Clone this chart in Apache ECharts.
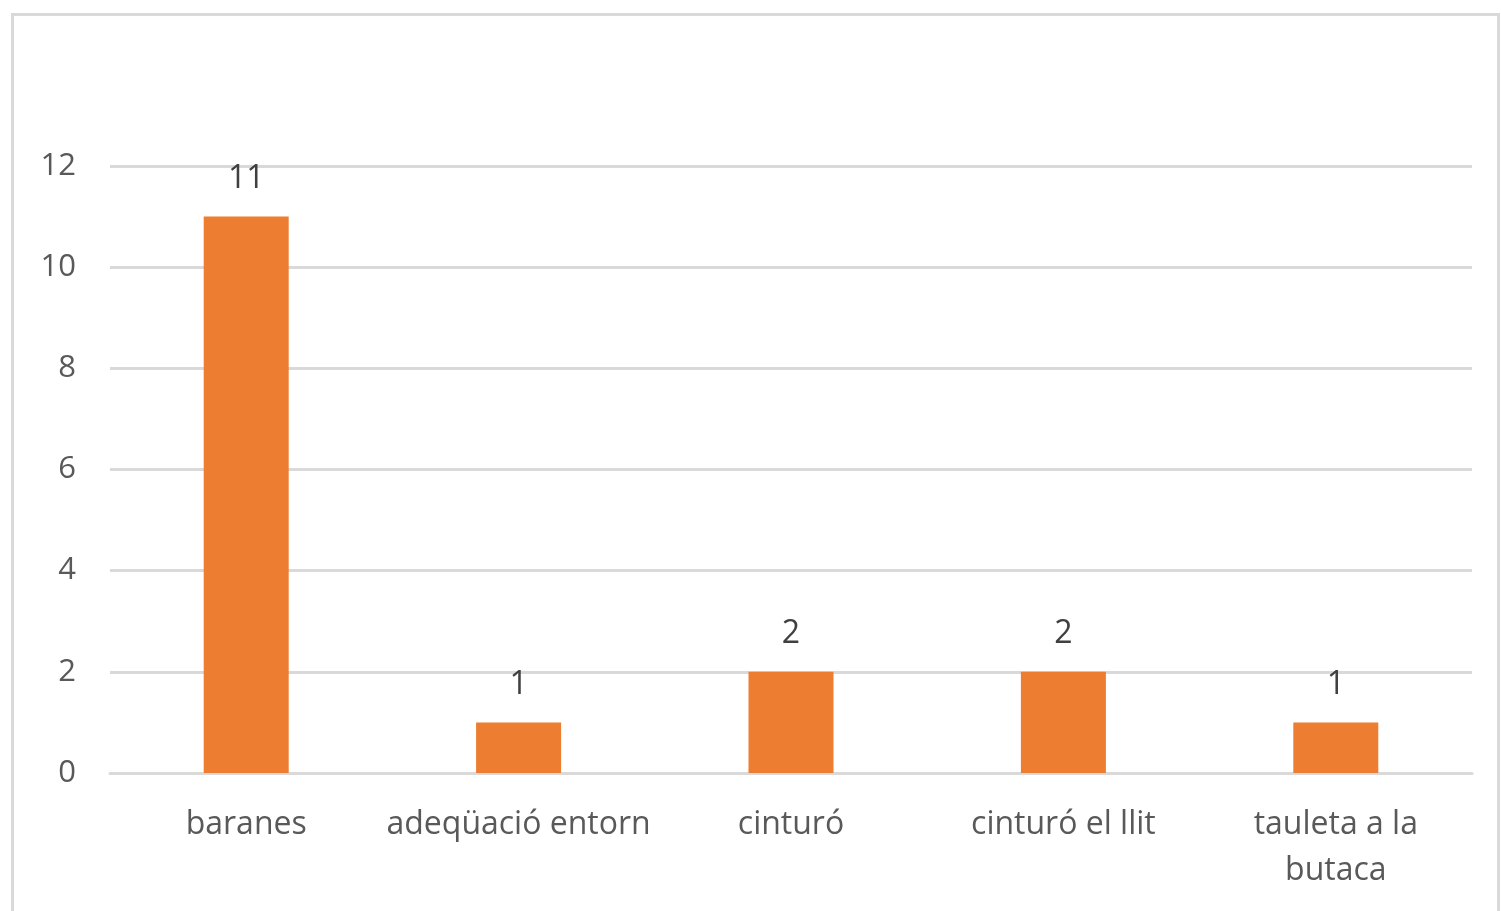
<!DOCTYPE html>
<html><head><meta charset="utf-8">
<script src="https://cdn.jsdelivr.net/npm/echarts@6/dist/echarts.min.js"></script>
<style>html,body{margin:0;padding:0;background:#fff;overflow:hidden}#c{width:1501px;height:911px}</style>
</head><body><div id="c"></div>
<script>
const categories = ['baranes', 'adeqüació entorn', 'cinturó', 'cinturó el llit', 'tauleta a la\nbutaca'];
const values = [11, 1, 2, 2, 1];
const yTicks = [0, 2, 4, 6, 8, 10, 12];

const chart = echarts.init(document.getElementById('c'));
const font = "'Open Sans', sans-serif";
chart.setOption({
  animation: false,
  backgroundColor: '#fff',
  graphic: [{
    type: 'rect', left: 10, top: 12,
    shape: {width: 1486, height: 920},
    style: {fill: 'none', stroke: '#d9d9d9', lineWidth: 3}
  }],
  grid: {left: 110, right: 29, top: 166, bottom: 138},
  xAxis: {
    type: 'category', data: categories,
    axisLine: {lineStyle: {color: '#d9d9d9', width: 3}},
    axisTick: {show: false},
    axisLabel: {color: '#595959', fontFamily: font, fontSize: 32, margin: 29, lineHeight: 46, interval: 0}
  },
  yAxis: {
    type: 'value', min: yTicks[0], max: yTicks[yTicks.length - 1], interval: 2,
    axisLine: {show: false}, axisTick: {show: false},
    axisLabel: {color: '#595959', fontFamily: font, fontSize: 31, margin: 34},
    splitLine: {lineStyle: {color: '#d9d9d9', width: 3}}
  },
  series: [{
    type: 'bar', data: values, barWidth: 85,
    itemStyle: {color: '#ED7D31'},
    label: {show: true, position: 'top', distance: 22, color: '#404040', fontFamily: font, fontSize: 32}
  }]
});
</script></body></html>
